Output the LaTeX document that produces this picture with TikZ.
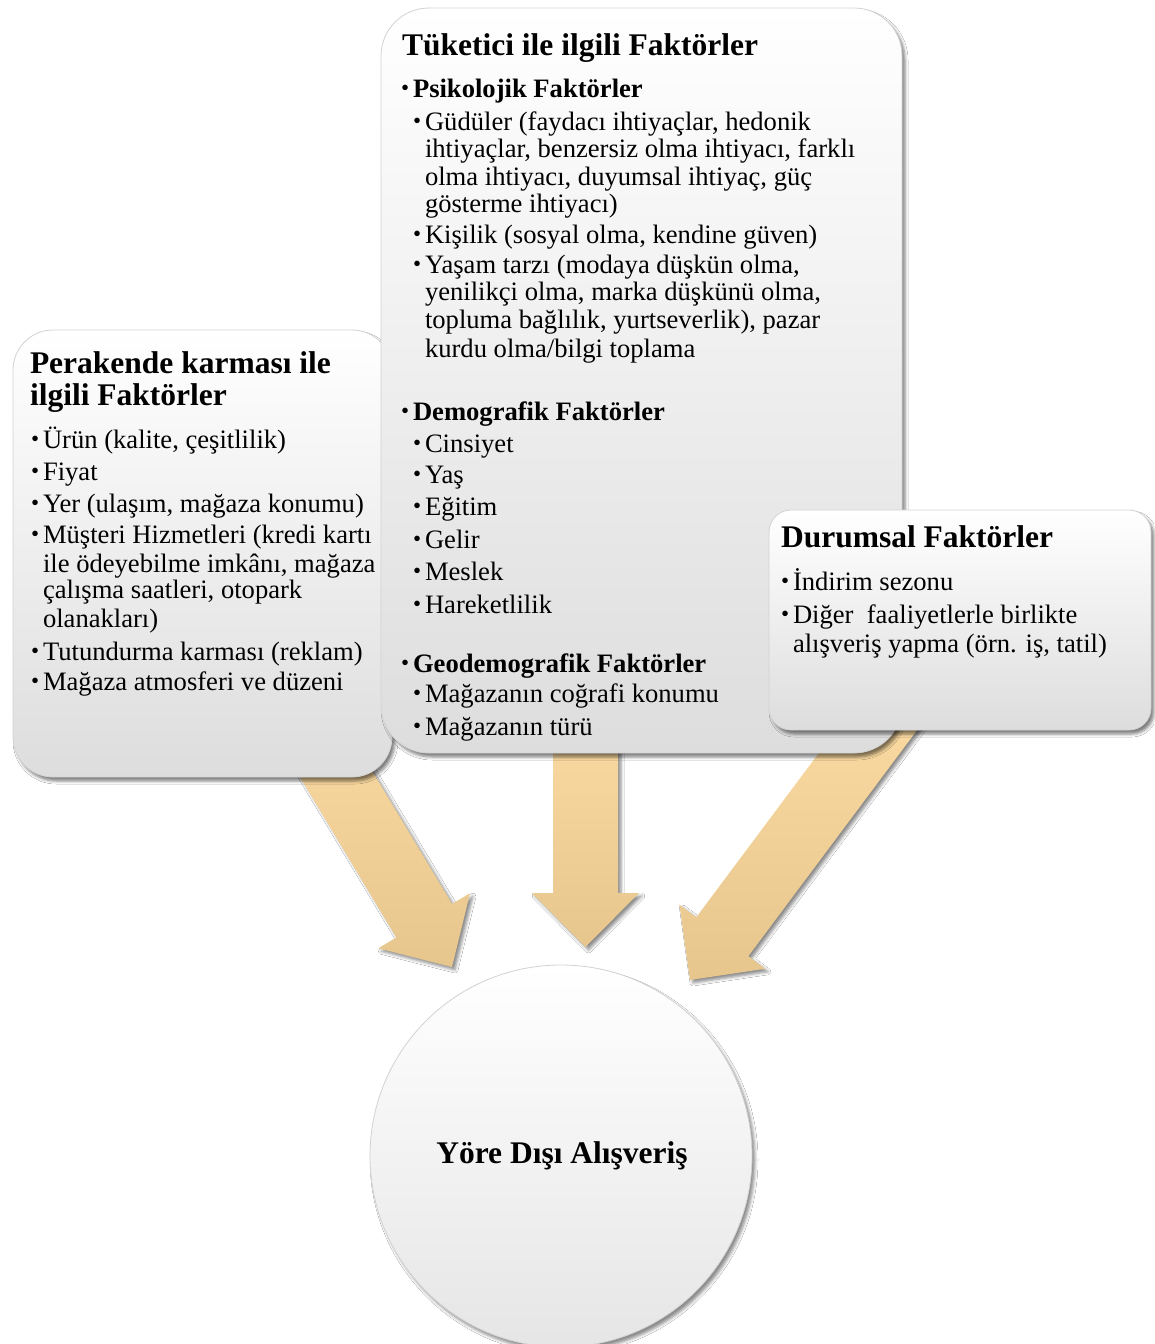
\documentclass[tikz,border=0pt]{standalone}
\usepackage{fontspec}
\setmainfont{Liberation Serif}
\usetikzlibrary{calc,shadows.blur}

\definecolor{arrowtop}{HTML}{FCDCA3}
\definecolor{arrowbot}{HTML}{E6C68C}
\definecolor{boxbot}{HTML}{DDDDDD}
\definecolor{boxedge}{HTML}{D2D2D2}

\newcounter{txtln}
\newcommand\bodyfont{\fontsize{26.6}{28}\selectfont}
\newcommand\headfont{\fontsize{31.5}{33}\selectfont\bfseries}
\newcommand\dotmark{\raisebox{1.2pt}{\fontsize{23}{23}\selectfont\mdseries\textbullet}}

% one line of text, left end of its baseline at (x,y)
\newcommand\ptext[3]{\stepcounter{txtln}\node[txt] (line\arabic{txtln}) at (#1,#2) {#3};}
% one bulleted line: the text starts at x, the bullet hangs 12pt to its left
\newcommand\btext[3]{\stepcounter{txtln}\node[txt] (line\arabic{txtln}) at (#1-12,#2) {\makebox[12pt][l]{\dotmark}#3};}

% block arrow from coordinate #1 to its tip #2
\newcommand\fatarrow[2]{%
  \coordinate (#1-neck) at ($(#2)!54pt!(#1)$);
  \path[arrowbody]
    ($(#1)!32.5pt!90:(#2)$) -- ($(#1-neck)!32.5pt!90:(#2)$) --
    ($(#1-neck)!53.5pt!90:(#2)$) -- (#2) --
    ($(#1-neck)!53.5pt!-90:(#2)$) -- ($(#1-neck)!32.5pt!-90:(#2)$) --
    ($(#1)!32.5pt!-90:(#2)$) -- cycle;}

\begin{document}
\begin{tikzpicture}[x=1pt,y=-1pt,
  txt/.style={anchor=base west, inner sep=0pt, outer sep=0pt, font=\bodyfont},
  panel/.style={rectangle, inner sep=0pt, outer sep=0pt, draw=boxedge, line width=0.8pt,
    top color=white, bottom color=boxbot,
    blur shadow={shadow xshift=3pt, shadow yshift=-4pt, shadow blur radius=3pt, shadow opacity=50}},
  arrowbody/.style={top color=arrowtop, bottom color=arrowbot,
    blur shadow={shadow xshift=3pt, shadow yshift=-3pt, shadow blur radius=3pt, shadow opacity=45}}]

\fill[white] (0,0) rectangle (1154,1344);
\useasboundingbox (0,0) rectangle (1154,1344);

% arrow ends: each starts under its panel and points at the circle
\coordinate (fromRetail) at (291.6,700);
\coordinate (toRetail)   at (452,967);
\coordinate (fromConsumer) at (585.5,700);
\coordinate (toConsumer)   at (585.5,947);
\coordinate (fromSituation) at (899,700);
\coordinate (toSituation)   at (690,980);

\fatarrow{fromRetail}{toRetail}
\fatarrow{fromConsumer}{toConsumer}
\fatarrow{fromSituation}{toSituation}

% retail mix panel
\node[panel, rounded corners=40pt, minimum width=379pt, minimum height=447pt] (retail) at (202.5,553.5) {};
\ptext{30}{373}{\headfont Perakende karması ile}
\ptext{30}{405}{\headfont ilgili Faktörler}
\btext{43}{448}{Ürün (kalite, çeşitlilik)}
\btext{43}{480}{Fiyat}
\btext{43}{512}{Yer (ulaşım, mağaza konumu)}
\btext{43}{543}{Müşteri Hizmetleri (kredi kartı}
\ptext{43}{572}{ile ödeyebilme imkânı, mağaza}
\ptext{43}{598}{çalışma saatleri, otopark}
\ptext{43}{627}{olanakları)}
\btext{43}{660}{Tutundurma karması (reklam)}
\btext{43}{690}{Mağaza atmosferi ve düzeni}

% consumer panel
\node[panel, rounded corners=48pt, minimum width=521pt, minimum height=745pt] (consumer) at (641.5,380.5) {};
\ptext{402}{55}{\headfont Tüketici ile ilgili Faktörler}
\btext{413}{97}{\bfseries Psikolojik Faktörler}
\btext{425}{130}{Güdüler (faydacı ihtiyaçlar, hedonik}
\ptext{425}{157}{ihtiyaçlar, benzersiz olma ihtiyacı, farklı}
\ptext{425}{185}{olma ihtiyacı, duyumsal ihtiyaç, güç}
\ptext{425}{212}{gösterme ihtiyacı)}
\btext{425}{243}{Kişilik (sosyal olma, kendine güven)}
\btext{425}{273}{Yaşam tarzı (modaya düşkün olma,}
\ptext{425}{300}{yenilikçi olma, marka düşkünü olma,}
\ptext{425}{328}{topluma bağlılık, yurtseverlik), pazar}
\ptext{425}{357}{kurdu olma/bilgi toplama}
\btext{413}{420}{\bfseries Demografik Faktörler}
\btext{425}{452}{Cinsiyet}
\btext{425}{483}{Yaş}
\btext{425}{515}{Eğitim}
\btext{425}{548}{Gelir}
\btext{425}{580}{Meslek}
\btext{425}{613}{Hareketlilik}
\btext{413}{672}{\bfseries Geodemografik Faktörler}
\btext{425}{702}{Mağazanın coğrafi konumu}
\btext{425}{735}{Mağazanın türü}

% situational panel
\node[panel, rounded corners=22pt, minimum width=382pt, minimum height=220pt] (situation) at (960,620) {};
\ptext{781}{547}{\headfont Durumsal Faktörler}
\btext{793}{590}{İndirim sezonu}
\btext{793}{623}{Diğer\ \ faaliyetlerle birlikte}
\ptext{793}{652}{alışveriş yapma (örn. iş, tatil)}

% outcome circle
\node[circle, inner sep=0pt, minimum size=382pt, draw=boxedge, line width=0.8pt,
  top color=white, middle color=white, bottom color=black!10,
  blur shadow={shadow xshift=3pt, shadow yshift=-4pt, shadow blur radius=3pt, shadow opacity=45}]
  (outshop) at (561,1156) {};
\node[anchor=base, inner sep=0pt, font=\headfont] (outshoptext) at (562,1163) {Yöre Dışı Alışveriş};
\end{tikzpicture}
\end{document}
